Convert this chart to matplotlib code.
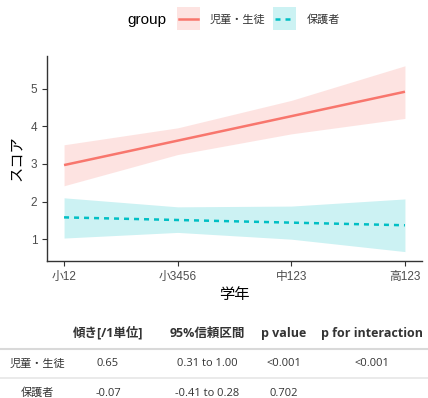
import numpy as np
import matplotlib.pyplot as plt
from matplotlib.lines import Line2D
from matplotlib.patches import Rectangle

plt.rcParams['font.family'] = ['Liberation Sans', 'Noto Sans CJK JP']
TABLE_FONT = ['Open Sans', 'Noto Sans CJK JP']

# ---- data ----
grades = ["小12", "小3456", "中123", "高123"]
groups = ["児童・生徒", "保護者"]

student_fit = [2.97, 3.62, 4.27, 4.92]
student_lo = [2.42, 3.25, 3.80, 4.21]
student_hi = [3.51, 3.96, 4.69, 5.61]

parent_fit = [1.58, 1.51, 1.44, 1.37]
parent_lo = [1.03, 1.18, 1.00, 0.67]
parent_hi = [2.10, 1.86, 1.88, 2.07]

table_header = ["", "傾き[/1単位]", "95%信頼区間", "p value", "p for interaction"]
table_rows = [
    ["児童・生徒", "0.65", "0.31 to 1.00", "<0.001", "<0.001"],
    ["保護者", "-0.07", "-0.41 to 0.28", "0.702", ""],
]

RED = "#F8766D"
CYAN = "#00BFC4"
W, H = 428, 398

fig = plt.figure(figsize=(W / 100, H / 100), dpi=100)
ax = fig.add_axes([47 / W, 1 - 261 / H, 375 / W, 205 / H])

x = np.arange(1, len(grades) + 1)
ax.fill_between(x, student_lo, student_hi, color=RED, alpha=0.2, lw=0)
ax.fill_between(x, parent_lo, parent_hi, color=CYAN, alpha=0.2, lw=0)
ax.plot(x, student_fit, color=RED, lw=1.8, solid_capstyle="butt")
ax.plot(x, parent_fit, color=CYAN, lw=1.8, ls=(0, (2, 2)))

ax.set_xlim(0.85, 4.15)
ax.set_ylim(0.42, 5.87)
ax.set_xticks(x)
ax.set_xticklabels(grades)
ax.set_yticks([1, 2, 3, 4, 5])
for s in ["top", "right"]:
    ax.spines[s].set_visible(False)
for s in ["left", "bottom"]:
    ax.spines[s].set_color("#333333")
    ax.spines[s].set_linewidth(1.0)
ax.tick_params(colors="#333333", labelcolor="#4D4D4D", labelsize=8.5,
               length=3.5, width=0.8)
ax.set_xlabel("学年", fontsize=11, labelpad=2, family=['Noto Sans CJK JP'])
ax.set_ylabel("スコア", fontsize=11, labelpad=4, family=['Noto Sans CJK JP'])

# ---- legend on top, drawn by hand ----
fig.text(127 / W, 1 - 20 / H, "group", fontsize=11, va="center", ha="left")
keys = [(177, RED, "-", "児童・生徒", 210), (273, CYAN, (0, (2, 2)), "保護者", 307)]
for kx, col, ls, lab, tx in keys:
    fig.patches.append(Rectangle((kx / W, 1 - 30 / H), 23 / W, 23 / H,
                                 transform=fig.transFigure, color=col,
                                 alpha=0.2, lw=0))
    fig.lines.append(Line2D([(kx + 2) / W, (kx + 21) / W], [1 - 19 / H] * 2,
                            transform=fig.transFigure, color=col, lw=1.8, ls=ls))
    fig.text(tx / W, 1 - 20 / H, lab, fontsize=8, va="center", ha="left",
             color="#333333", family=['Noto Sans CJK JP'])

# ---- table below ----
col_x = [37, 108, 207, 284, 372]
fig.lines.append(Line2D([0, 1], [1 - 349 / H] * 2, transform=fig.transFigure,
                        color="#D9D9D9", lw=1.5))
fig.lines.append(Line2D([0, 1], [1 - 378 / H] * 2, transform=fig.transFigure,
                        color="#E6E6E6", lw=1.2))
for cx, txt in zip(col_x, table_header):
    fig.text(cx / W, 1 - 333 / H, txt, fontsize=9, weight="bold",
             ha="center", va="center", color="#333333", family=TABLE_FONT)
for ry, row in zip([364, 393], table_rows):
    for cx, txt in zip(col_x, row):
        fig.text(cx / W, 1 - ry / H, txt, fontsize=8, ha="center",
                 va="center", color="#333333", family=TABLE_FONT)

fig.savefig("out.png", dpi=100)
